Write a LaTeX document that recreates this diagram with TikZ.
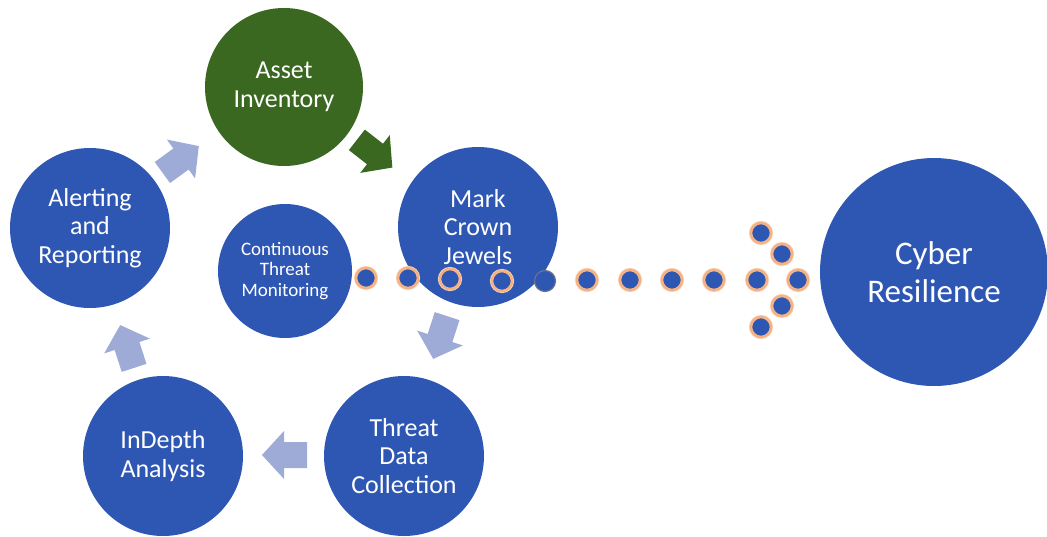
\documentclass[tikz,border=0pt]{standalone}
\usepackage{fontspec}
\setmainfont{Carlito}
\definecolor{cblue}{RGB}{46,87,180}
\definecolor{cgreen}{RGB}{59,104,33}
\definecolor{lblue}{RGB}{158,171,214}
\definecolor{peach}{RGB}{244,177,131}
\definecolor{peachl}{RGB}{250,212,186}
\tikzset{
  bc/.style={circle, fill=cblue, text=white, inner sep=0pt, minimum size=#1, align=center},
  txt/.style={font=\fontsize{26}{28.5}\selectfont},
  dot/.style={circle, fill=cblue, draw=peach, line width=2.6pt, minimum size=20pt, inner sep=0pt,
     preaction={draw=peachl, line width=4.2pt}},
  pics/barrow/.style={code={
    \fill[#1] (-23,-13) -- (0,-13) -- (0,-24) -- (22,0) -- (0,24) -- (0,13) -- (-23,13) -- cycle;
  }}
}
\begin{document}
\begin{tikzpicture}[x=1pt,y=-1pt]
\useasboundingbox (0,0) rectangle (1047,536);
% circles
\node[bc=158pt, fill=cgreen, txt] (asset) at (284,87) {Asset\\Inventory};
\node[bc=160pt, txt] (crown) at (478,227) {Mark\\Crown\\Jewels};
\node[bc=160pt, txt] (alert) at (90,228) {Alerting\\and\\Reporting};
\node[bc=134pt, font=\fontsize{19}{20.5}\selectfont] (cont) at (285,271) {Continuous\\Threat\\Monitoring};
\node[bc=160pt, txt] (indepth) at (163,456) {InDepth\\Analysis};
\node[bc=160pt, txt] (threat) at (404,456) {Threat\\Data\\Collection};
\node[bc=228pt, font=\fontsize{33}{38.5}\selectfont] (cyber) at (934,272) {Cyber\\Resilience};
% cycle arrows
\pic[shift={(181,159)}, rotate=36] {barrow=lblue};
\pic[shift={(375,154)}, rotate=-38] {barrow=cgreen};
\pic[shift={(440,338)}, rotate=-108] {barrow=lblue};
\pic[shift={(284,455)}, rotate=180] {barrow=lblue};
\pic[shift={(127,346)}, rotate=108] {barrow=lblue};
% dots
\node[dot] (d1) at (366,278) {};
\node[dot] (d2) at (408,278) {};
\node[dot] (d3) at (450,279) {};
\node[dot] (d4) at (502,281) {};
\node[circle, fill=cblue, draw=gray!70!cblue, line width=1.2pt, minimum size=21pt, inner sep=0pt] (d5) at (545,281) {};
\node[dot] (d6) at (587,280) {};
\node[dot] (d7) at (630,280) {};
\node[dot] (d8) at (672,280) {};
\node[dot] (d9) at (714,280) {};
\node[dot] (d10) at (757,280) {};
\node[dot] (d11) at (798,280) {};
\node[dot] (u1) at (761,233) {};
\node[dot] (u2) at (782,254) {};
\node[dot] (l2) at (782,306) {};
\node[dot] (l1) at (761,327) {};
\end{tikzpicture}
\end{document}
